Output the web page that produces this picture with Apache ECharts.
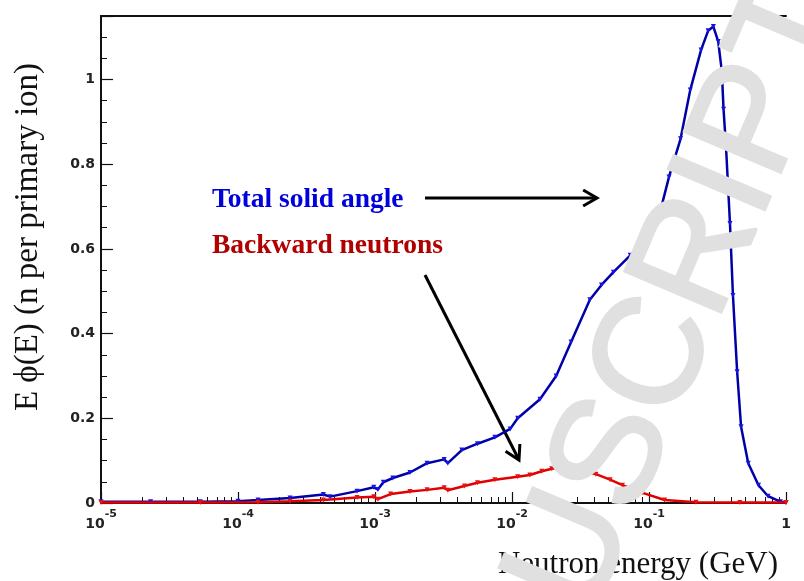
<!DOCTYPE html>
<html>
<head>
<meta charset="utf-8">
<script src="https://cdn.jsdelivr.net/npm/echarts@6/dist/echarts.min.js"></script>
<style>html,body{margin:0;padding:0;background:#fff;}#c{width:804px;height:581px;}</style>
</head>
<body>
<div id="c"></div>
<script>
// Neutron energy (GeV) and E*phi(E) values, total solid angle
const totalEnergy = [1.0e-5, 2.3e-5, 5.3e-5, 1.0e-4, 1.4e-4, 2.4e-4, 4.2e-4, 4.7e-4, 7.4e-4, 9.8e-4,
  1.05e-3, 1.15e-3, 1.35e-3, 1.8e-3, 2.4e-3, 3.2e-3, 3.4e-3, 4.3e-3, 5.6e-3, 7.5e-3,
  9.7e-3, 1.1e-2, 1.6e-2, 2.1e-2, 2.7e-2, 3.7e-2, 4.5e-2, 5.5e-2, 7.3e-2, 9.7e-2,
  0.12, 0.14, 0.17, 0.20, 0.24, 0.27, 0.295, 0.32, 0.34, 0.35,
  0.365, 0.39, 0.41, 0.44, 0.47, 0.53, 0.63, 0.74, 0.91, 1.0];
const totalValues = [0.003, 0.003, 0.003, 0.004, 0.007, 0.012, 0.020, 0.015, 0.028, 0.037,
  0.032, 0.049, 0.059, 0.072, 0.094, 0.103, 0.094, 0.125, 0.140, 0.155,
  0.175, 0.200, 0.245, 0.300, 0.380, 0.480, 0.515, 0.545, 0.585, 0.625,
  0.685, 0.770, 0.860, 0.975, 1.070, 1.115, 1.125, 1.090, 1.020, 0.930,
  0.840, 0.660, 0.490, 0.310, 0.180, 0.094, 0.042, 0.016, 0.003, 0.001];

// Backward neutrons
const backEnergy = [1.0e-5, 5.3e-5, 1.4e-4, 2.4e-4, 4.2e-4, 7.4e-4, 9.8e-4, 1.05e-3, 1.3e-3, 1.8e-3,
  2.4e-3, 3.2e-3, 3.4e-3, 4.5e-3, 5.6e-3, 7.5e-3, 1.1e-2, 1.35e-2, 1.65e-2, 1.95e-2,
  2.3e-2, 2.7e-2, 3.3e-2, 4.1e-2, 5.2e-2, 6.4e-2, 9.0e-2, 0.13, 0.22, 0.46, 1.0];
const backValues = [0.001, 0.001, 0.002, 0.004, 0.007, 0.013, 0.015, 0.009, 0.021, 0.027,
  0.031, 0.036, 0.030, 0.040, 0.048, 0.055, 0.062, 0.066, 0.075, 0.081,
  0.084, 0.082, 0.076, 0.068, 0.055, 0.042, 0.024, 0.007, 0.002, 0.001, 0.001];

const yMajorTicks = [0, 0.2, 0.4, 0.6, 0.8, 1];
const seriesNames = ['Total solid angle', 'Backward neutrons'];
const xTitle = 'Neutron energy (GeV)';
const yTitle = 'E \u03d5(E) (n per primary ion)';
const watermark = 'MANUSCRIPT';

const chart = echarts.init(document.getElementById('c'), null, {renderer: 'canvas'});
const pair = (xs, ys) => xs.map((x, i) => [x, ys[i]]);
const black = '#111';

function arrowHead(tx, ty, dx, dy, len) {
  const n = Math.hypot(dx, dy); const bx = -dx / n, by = -dy / n;
  const a = Math.PI / 6;
  const r = (t) => [bx * Math.cos(t) - by * Math.sin(t), bx * Math.sin(t) + by * Math.cos(t)];
  const p1 = r(a), p2 = r(-a);
  return [[tx + p1[0] * len, ty + p1[1] * len], [tx, ty], [tx + p2[0] * len, ty + p2[1] * len]];
}

// watermark placement: centre of the "S" glyph
const wmAngle = 67 * Math.PI / 180;
const wmFont = 152;
const sCx = 615, sCy = 455;
const back = (2.944 + 0.333) * wmFont;
const wmX = sCx - back * Math.cos(wmAngle);
const wmY = sCy + back * Math.sin(wmAngle);

chart.setOption({
  animation: false,
  backgroundColor: '#fff',
  grid: {left: 101, right: 18, top: 16, bottom: 78, containLabel: false},
  xAxis: [{
    type: 'log', min: 1e-5, max: 1, logBase: 10,
    axisLine: {show: true, onZero: false, lineStyle: {color: black, width: 2}},
    axisTick: {show: true, inside: true, length: 11, lineStyle: {color: black, width: 1.2}},
    minorTick: {show: true, splitNumber: 9, length: 6, lineStyle: {color: black, width: 1}},
    splitLine: {show: false}, minorSplitLine: {show: false},
    axisLabel: {
      margin: 6,
      formatter: function (v) {
        const e = Math.round(Math.log10(v));
        return e === 0 ? '{b|1}' : '{b|10}{s|' + e + '}';
      },
      rich: {
        b: {fontFamily: 'DejaVu Sans', fontWeight: 'bold', fontSize: 14, color: '#222', lineHeight: 22, verticalAlign: 'bottom'},
        s: {fontFamily: 'DejaVu Sans', fontWeight: 'bold', fontSize: 11, color: '#222', lineHeight: 22, verticalAlign: 'top'}
      }
    }
  }, {
    type: 'log', min: 1e-5, max: 1, logBase: 10, position: 'top',
    axisLine: {show: true, onZero: false, lineStyle: {color: black, width: 2}},
    axisTick: {show: false}, axisLabel: {show: false}, splitLine: {show: false}
  }],
  yAxis: [{
    type: 'value', min: 0, max: 1.15, interval: 0.2,
    axisLine: {show: true, onZero: false, lineStyle: {color: black, width: 2}},
    axisTick: {show: true, inside: true, length: 12, lineStyle: {color: black, width: 1.2}},
    splitLine: {show: false},
    axisLabel: {
      margin: 6, fontFamily: 'DejaVu Sans', fontWeight: 'bold', fontSize: 14, color: '#222',
      formatter: function (v) {
        for (const t of yMajorTicks) { if (Math.abs(t - v) < 1e-6) return String(t); }
        return '';
      }
    }
  }, {
    type: 'value', min: 0, max: 1.15, interval: 0.05, position: 'left',
    axisLine: {show: false},
    axisTick: {show: true, inside: true, length: 6, lineStyle: {color: black, width: 1}},
    axisLabel: {show: false}, splitLine: {show: false}
  }],
  series: [{
    name: seriesNames[0], type: 'line', xAxisIndex: 0, yAxisIndex: 0,
    data: pair(totalEnergy, totalValues),
    symbol: 'triangle', symbolSize: 5, symbolRotate: 180, showSymbol: true,
    lineStyle: {color: '#0000a8', width: 2.5},
    itemStyle: {color: '#1414e6'}, z: 3
  }, {
    name: seriesNames[1], type: 'line', xAxisIndex: 0, yAxisIndex: 0,
    data: pair(backEnergy, backValues),
    symbol: 'triangle', symbolSize: 5, symbolRotate: 180, showSymbol: true,
    lineStyle: {color: '#e00000', width: 2.5},
    itemStyle: {color: '#e81010'}, z: 4
  }],
  graphic: [
    {type: 'text', x: 212, y: 200, style: {text: seriesNames[0], fill: '#0000dc', font: 'bold 27.5px "Liberation Serif"', align: 'left', verticalAlign: 'middle'}},
    {type: 'text', x: 212, y: 246, style: {text: seriesNames[1], fill: '#b00000', font: 'bold 27.5px "Liberation Serif"', align: 'left', verticalAlign: 'middle'}},
    {type: 'line', shape: {x1: 425, y1: 198, x2: 596, y2: 198}, style: {stroke: '#000', lineWidth: 3}},
    {type: 'polyline', shape: {points: arrowHead(597, 198, 1, 0, 16)}, style: {stroke: '#000', lineWidth: 3, fill: null}},
    {type: 'line', shape: {x1: 425, y1: 275, x2: 518, y2: 458}, style: {stroke: '#000', lineWidth: 3}},
    {type: 'polyline', shape: {points: arrowHead(519, 460, 94, 185, 16)}, style: {stroke: '#000', lineWidth: 3, fill: null}},
    {type: 'text', x: 28, y: 237, rotation: Math.PI / 2, style: {text: yTitle, fill: '#111', font: '33px "Liberation Serif"', align: 'center', verticalAlign: 'middle'}},
    {type: 'text', x: 638, y: 565, style: {text: xTitle, fill: '#111', font: '31px "Liberation Serif"', align: 'center', verticalAlign: 'middle'}},
    {type: 'text', x: wmX, y: wmY, rotation: wmAngle, z: 100, style: {text: watermark, fill: '#e0e0e0', stroke: '#e0e0e0', lineWidth: 3, font: wmFont + 'px "Liberation Sans"', align: 'left', verticalAlign: 'middle'}}
  ]
});
</script>
</body>
</html>
